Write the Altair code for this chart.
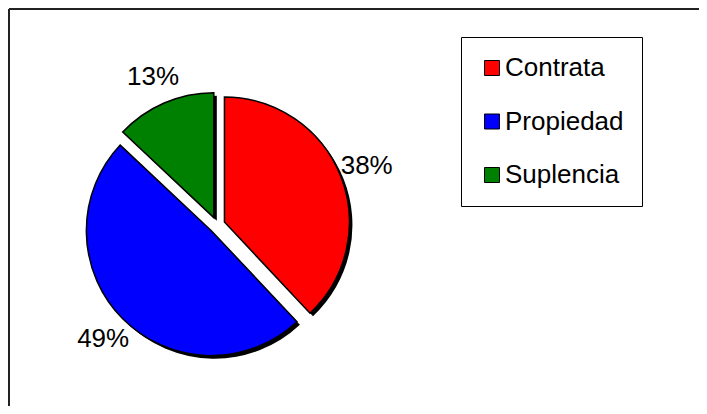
import altair as alt
import pandas as pd

categories = ["Contrata", "Propiedad", "Suplencia"]
values = [38, 49, 13]
colors = ["#FF0000", "#0000FF", "#008000"]

df = pd.DataFrame({"cat": categories, "value": values, "order": list(range(len(values)))})

W, H = 691, 398
CX, CY = 209, 217      # common pie centre (chart px)
D = 8                  # explosion distance
R = 125                # pie radius
LR = 153               # label distance from slice centre
SH = 3                 # shadow offset
FONT = "Liberation Sans"

base = alt.Chart(df).transform_joinaggregate(
    total="sum(value)"
).transform_window(
    cum="sum(value)", sort=[alt.SortField("order")], frame=[None, 0]
).transform_calculate(
    t1="2*PI*datum.cum/datum.total",
    t0="2*PI*(datum.cum-datum.value)/datum.total",
).transform_calculate(
    mid="(datum.t0+datum.t1)/2"
).transform_calculate(
    px=f"{CX}+{D}*sin(datum.mid)",
    py=f"{CY}-{D}*cos(datum.mid)",
).transform_calculate(
    sx=f"datum.px+{SH}",
    sy=f"datum.py+{SH}",
    lx=f"datum.px+{LR}*sin(datum.mid)",
    ly=f"datum.py-{LR}*cos(datum.mid)",
    label="format(datum.value/datum.total, '.0%')",
)

shadow = base.mark_arc(radius=R, fill="black").encode(
    x=alt.X("sx:Q", scale=None, axis=None),
    y=alt.Y("sy:Q", scale=None, axis=None),
    theta=alt.Theta("t0:Q", scale=None),
    theta2=alt.Theta2("t1:Q"),
)

slices = base.mark_arc(radius=R, stroke="black", strokeWidth=1.5).encode(
    x=alt.X("px:Q", scale=None, axis=None),
    y=alt.Y("py:Q", scale=None, axis=None),
    theta=alt.Theta("t0:Q", scale=None),
    theta2=alt.Theta2("t1:Q"),
    fill=alt.Fill(
        "cat:N",
        scale=alt.Scale(domain=categories, range=colors),
        sort=categories,
        legend=alt.Legend(
            title=None,
            orient="none",
            legendX=453,
            legendY=29,
            strokeColor="black",
            fillColor="white",
            padding=18,
            symbolType="square",
            symbolSize=225,
            symbolStrokeColor="black",
            symbolStrokeWidth=1,
            symbolOpacity=1,
            labelFont=FONT,
            labelFontSize=26,
            labelColor="black",
            labelOffset=0,
            rowPadding=27.5,
        ),
    ),
)

labels = base.mark_text(font=FONT, fontSize=26, color="black", align="center", baseline="middle").encode(
    x=alt.X("lx:Q", scale=None, axis=None),
    y=alt.Y("ly:Q", scale=None, axis=None),
    text="label:N",
)

frame_left = alt.Chart(df).mark_rule(color="#222222", strokeWidth=2).encode(
    x=alt.value(1), y=alt.value(1), y2=alt.value(H)
)
frame_top = alt.Chart(df).mark_rule(color="#222222", strokeWidth=2).encode(
    x=alt.value(1), x2=alt.value(W), y=alt.value(1)
)

chart = alt.layer(frame_left, frame_top, shadow, slices, labels).properties(
    width=W, height=H, padding=0, autosize=alt.AutoSizeParams(type="none")
).configure_view(stroke=None)

chart.save("out.html", embed_options={"renderer": "svg", "actions": False})
